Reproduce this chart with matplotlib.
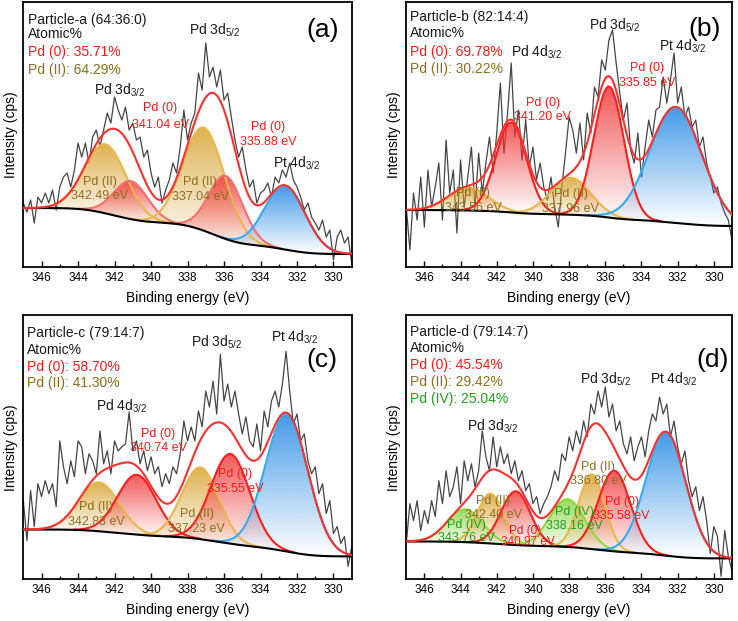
import numpy as np
import matplotlib.pyplot as plt
import matplotlib.colors as mcolors
from matplotlib.patches import Polygon

plt.rcParams['font.family'] = ['Liberation Sans', 'DejaVu Sans']
plt.rcParams['mathtext.default'] = 'regular'

# measured spectra, 347.0 -> 329.0 eV in 0.2 eV steps (intensity in arbitrary units)
raw_ev = np.linspace(347.0, 329.0, 91)
raw_a = [64, 55, 67, 44, 70, 64, 74, 64, 77, 57, 80, 90, 94, 80, 97, 124, 110, 124, 104, 130,
         137, 120, 137, 154, 144, 170, 157, 147, 160, 137, 144, 127, 130, 110, 117, 94, 80, 90, 64, 77,
         87, 104, 94, 120, 157, 127,
         144, 154, 194, 177, 224, 190, 200, 180, 197, 167, 174, 150, 127, 110, 120, 97, 80, 87, 64, 74,
         77, 84, 70, 90, 84, 97, 90, 104, 87, 80, 70, 57, 64, 50, 44, 37, 47, 30, 37, 7,
         30, 37, 24, 30, 4]
raw_b = [60, 17, 74, 47, 90, 40, 97, 60, 80, 104, 47, 127, 74, 97, 34, 107, 60, 90, 120, 60,
         114, 74, 104, 130, 94, 134, 184, 114, 154, 204, 130, 157, 107, 147, 100, 120, 87, 104, 80, 67,
         90, 60, 40, 80, 114, 150,
         137, 114, 144, 107, 154, 134, 180, 170, 207, 197, 227, 237, 204, 174, 147, 164, 117, 104, 134, 90,
         120, 147, 130, 157, 160, 190, 164, 187, 214, 164, 180, 150, 160, 140, 147, 120, 130, 104, 90, 74,
         80, 64, 54, 47, 27]
raw_c = [79, 39, 89, 53, 96, 83, 99, 86, 96, 73, 139, 113, 96, 119, 103, 139, 133, 106, 126, 119,
         106, 149, 116, 129, 106, 139, 129, 133, 136, 168, 129, 139, 116, 129, 109, 123, 106, 113, 93, 106,
         96, 113, 106, 126, 159, 139,
         153, 139, 169, 153, 189, 173, 199, 166, 226, 179, 196, 173, 189, 166, 146, 163, 139, 133, 156, 129,
         169, 153, 179, 189, 173, 196, 229, 189, 156, 166, 139, 146, 119, 106, 113, 86, 96, 66, 79, 46,
         53, 36, 43, 13, 33]
raw_d = [36, 76, 59, 79, 49, 69, 56, 79, 63, 99, 76, 109, 83, 93, 113, 76, 119, 99, 116, 93,
         109, 149, 123, 109, 143, 113, 133, 116, 126, 106, 119, 99, 109, 89, 96, 76, 83, 66, 76, 83,
         93, 109, 99, 126, 119, 143,
         129, 149, 136, 159, 143, 176, 166, 189, 173, 193, 163, 176, 149, 159, 136, 126, 143, 119, 133, 143,
         123, 149, 166, 159, 183, 166, 176, 143, 159, 133, 116, 129, 99, 83, 93, 69, 83, 59, 26, 53,
         43, 3, 49, 23, 9]

# fitted components: centre (eV), height, FWHM (eV), chemical state
peak_a_center = [342.50, 341.10, 337.10, 335.90, 332.65]
peak_a_height = [69, 38, 103, 63, 64]
peak_a_fwhm = [2.7, 2.2, 2.7, 2.2, 2.6]
peak_a_state = ['II', '0', 'II', '0', 'Pt']

peak_b_center = [343.56, 341.20, 337.90, 335.80, 332.10]
peak_b_height = [23, 90, 37, 131, 116]
peak_b_fwhm = [2.6, 2.0, 2.6, 1.95, 3.4]
peak_b_state = ['II', '0', 'II', '0', 'Pt']

peak_c_center = [342.85, 340.78, 337.30, 335.65, 332.56]
peak_c_height = [49, 60, 72, 90, 138]
peak_c_fwhm = [2.6, 2.5, 2.4, 2.5, 2.75]
peak_c_state = ['II', '0', 'II', '0', 'Pt']

peak_d_center = [343.76, 342.35, 340.95, 338.10, 336.75, 335.50, 332.65]
peak_d_height = [33, 50, 54, 48, 75, 81, 124]
peak_d_fwhm = [2.3, 1.7, 1.9, 2.3, 1.7, 2.1, 2.6]
peak_d_state = ['IV', 'II', '0', 'IV', 'II', '0', 'Pt']

# background level at the low / high binding-energy ends
bg_a = [13, 59]
bg_b = [41, 57]
bg_c = [23, 50]
bg_d = [21, 38]

line_col = {'0': '#ff1e1e', 'II': '#e8b84c', 'IV': '#8edc3e', 'Pt': '#35acf2'}
fill_col = {'0': '#f03a3a', 'II': '#d9a332', 'IV': '#84d440', 'Pt': '#2188e4'}
RED = '#ff1a1a'
BROWN = '#8c6d1f'
GREEN = '#1fa01f'


def gradient_fill(ax, x, lo, hi, color, a_top=0.85):
    verts = np.column_stack([np.r_[x, x[::-1]], np.r_[hi, lo[::-1]]])
    clip = Polygon(verts, closed=True, facecolor='none', edgecolor='none')
    ax.add_patch(clip)
    grad = np.zeros((120, 1, 4))
    grad[:, 0, :3] = mcolors.to_rgb(color)
    grad[:, 0, 3] = np.linspace(a_top, 0.0, 120)
    im = ax.imshow(grad, aspect='auto', origin='upper', zorder=2,
                   extent=[x.min(), x.max(), lo.min(), hi.max()])
    im.set_clip_path(clip)


def draw(ax, raw, centers, heights, fwhms, states, bg_ends, comp_col=None):
    x = np.linspace(329, 347, 700)
    comps = [h * np.exp(-4 * np.log(2) * ((x - c) / w) ** 2)
             for c, h, w in zip(centers, heights, fwhms)]
    total = np.sum(comps, axis=0)
    cum = np.cumsum(total)
    bg = bg_ends[0] + (bg_ends[1] - bg_ends[0]) * cum / cum[-1]

    ax.plot(raw_ev, raw, color='#454545', lw=0.9, zorder=1)
    for comp, st in zip(comps, states):
        m = comp > 0.3
        xs, lo, hi = x[m], bg[m], bg[m] + comp[m]
        gradient_fill(ax, xs, lo, hi, fill_col[st])
        lc = line_col[st] if comp_col is None or st != '0' else comp_col
        ax.plot(xs, hi, color=lc, lw=1.5, zorder=3)
    ax.plot(x, bg, color='black', lw=1.5, zorder=4)
    ax.plot(x, bg + total, color='#ff3030', lw=1.5, zorder=5)

    ax.set_xlim(347, 329)
    ax.set_ylim(0, 265)
    ax.set_yticks([])
    ax.set_xticks(np.arange(346, 329, -2))
    ax.set_xticks(np.arange(346, 329, -1), minor=True)
    ax.tick_params(axis='x', which='both', direction='in', width=1, labelsize=8.5, pad=3.5)
    ax.tick_params(axis='x', which='major', length=4)
    ax.tick_params(axis='x', which='minor', length=2.5)
    for s in ax.spines.values():
        s.set_linewidth(1.3)
    ax.set_xlabel('Binding energy (eV)', fontsize=10, labelpad=5)
    ax.set_ylabel('Intensity (cps)', fontsize=10, labelpad=4)


def info(ax, x0, ys, lines):
    for y, (txt, col) in zip(ys, lines):
        ax.text(x0, y, txt, transform=ax.transAxes, ha='left', va='center',
                fontsize=10, color=col, zorder=6)


def lab(ax, x, y, txt, col, fs=9):
    ax.text(x, y, txt, ha='center', va='center', fontsize=fs, color=col, zorder=6)


fig = plt.figure(figsize=(7.38, 6.21), dpi=100)
ax_a = fig.add_axes([0.0316, 0.5700, 0.4450, 0.4267])
ax_b = fig.add_axes([0.5505, 0.5700, 0.4413, 0.4267])
ax_c = fig.add_axes([0.0316, 0.0671, 0.4450, 0.4251])
ax_d = fig.add_axes([0.5505, 0.0671, 0.4413, 0.4251])

# (a)
draw(ax_a, raw_a, peak_a_center, peak_a_height, peak_a_fwhm, peak_a_state, bg_a, comp_col='#f27070')
info(ax_a, 0.015, [0.932, 0.878, 0.812, 0.743],
     [('Particle-a (64:36:0)', '#1a1a1a'), ('Atomic%', '#1a1a1a'),
      ('Pd (0): 35.71%', RED), ('Pd (II): 64.29%', BROWN)])
ax_a.text(0.912, 0.894, '(a)', transform=ax_a.transAxes, ha='center', va='center', fontsize=19)
lab(ax_a, 336.5, 237, 'Pd 3d$_{5/2}$', '#1a1a1a', 10)
lab(ax_a, 341.7, 177, 'Pd 3d$_{3/2}$', '#1a1a1a', 10)
lab(ax_a, 332.0, 104, 'Pt 4d$_{3/2}$', '#1a1a1a', 10)
lab(ax_a, 339.5, 159, 'Pd (0)', RED)
lab(ax_a, 339.5, 142, '341.04 eV', RED)
lab(ax_a, 333.6, 140, 'Pd (0)', RED)
lab(ax_a, 333.6, 125, '335.88 eV', RED)
lab(ax_a, 342.8, 85, 'Pd (II)', BROWN)
lab(ax_a, 342.8, 71, '342.49 eV', BROWN)
lab(ax_a, 337.3, 85, 'Pd (II)', BROWN)
lab(ax_a, 337.3, 70, '337.04 eV', BROWN)

# (b)
draw(ax_b, raw_b, peak_b_center, peak_b_height, peak_b_fwhm, peak_b_state, bg_b)
info(ax_b, 0.010, [0.945, 0.882, 0.8125, 0.747],
     [('Particle-b (82:14:4)', '#1a1a1a'), ('Atomic%', '#1a1a1a'),
      ('Pd (0): 69.78%', RED), ('Pd (II): 30.22%', BROWN)])
ax_b.text(0.915, 0.90, '(b)', transform=ax_b.transAxes, ha='center', va='center', fontsize=19)
lab(ax_b, 339.8, 215, 'Pd 4d$_{3/2}$', '#1a1a1a', 10)
lab(ax_b, 335.5, 242, 'Pd 3d$_{5/2}$', '#1a1a1a', 10)
lab(ax_b, 331.7, 221, 'Pt 4d$_{3/2}$', '#1a1a1a', 10)
lab(ax_b, 333.7, 199, 'Pd (0)', RED)
lab(ax_b, 333.7, 184, '335.85 eV', RED)
lab(ax_b, 339.45, 164, 'Pd (0)', RED)
lab(ax_b, 339.45, 150, '341.20 eV', RED)
lab(ax_b, 343.3, 74, 'Pd (II)', BROWN)
lab(ax_b, 343.3, 59, '343.56 eV', BROWN)
lab(ax_b, 337.9, 73, 'Pd (II)', BROWN)
lab(ax_b, 337.9, 58, '337.96 eV', BROWN)

# (c)
draw(ax_c, raw_c, peak_c_center, peak_c_height, peak_c_fwhm, peak_c_state, bg_c)
info(ax_c, 0.010, [0.932, 0.868, 0.805, 0.742],
     [('Particle-c (79:14:7)', '#1a1a1a'), ('Atomic%', '#1a1a1a'),
      ('Pd (0): 58.70%', RED), ('Pd (II): 41.30%', BROWN)])
ax_c.text(0.909, 0.83, '(c)', transform=ax_c.transAxes, ha='center', va='center', fontsize=19)
lab(ax_c, 336.4, 238, 'Pd 3d$_{5/2}$', '#1a1a1a', 10)
lab(ax_c, 332.1, 243, 'Pt 4d$_{3/2}$', '#1a1a1a', 10)
lab(ax_c, 341.6, 174, 'Pd 4d$_{3/2}$', '#1a1a1a', 10)
lab(ax_c, 339.6, 146, 'Pd (0)', RED)
lab(ax_c, 339.6, 132, '340.74 eV', RED)
lab(ax_c, 335.4, 106, 'Pd (0)', RED)
lab(ax_c, 335.4, 91, '335.55 eV', RED)
lab(ax_c, 343.0, 73, 'Pd (II)', BROWN)
lab(ax_c, 343.0, 58, '342.83 eV', BROWN)
lab(ax_c, 337.5, 66, 'Pd (II)', BROWN)
lab(ax_c, 337.5, 51, '337.23 eV', BROWN)

# (d)
draw(ax_d, raw_d, peak_d_center, peak_d_height, peak_d_fwhm, peak_d_state, bg_d)
info(ax_d, 0.010, [0.938, 0.875, 0.812, 0.748, 0.682],
     [('Particle-d (79:14:7)', '#1a1a1a'), ('Atomic%', '#1a1a1a'),
      ('Pd (0): 45.54%', RED), ('Pd (II): 29.42%', BROWN), ('Pd (IV): 25.04%', GREEN)])
ax_d.text(0.942, 0.83, '(d)', transform=ax_d.transAxes, ha='center', va='center', fontsize=19)
lab(ax_d, 336.0, 201, 'Pd 3d$_{5/2}$', '#1a1a1a', 10)
lab(ax_d, 332.2, 201, 'Pt 4d$_{3/2}$', '#1a1a1a', 10)
lab(ax_d, 342.2, 154, 'Pd 3d$_{3/2}$', '#1a1a1a', 10)
lab(ax_d, 336.4, 113, 'Pd (II)', BROWN)
lab(ax_d, 336.4, 99, '336.80 eV', BROWN)
lab(ax_d, 335.1, 78, 'Pd (0)', RED)
lab(ax_d, 335.1, 64, '335.58 eV', RED)
lab(ax_d, 337.7, 68, 'Pd (IV)', GREEN)
lab(ax_d, 337.7, 54, '338.16 eV', GREEN)
lab(ax_d, 342.2, 79, 'Pd (II)', BROWN)
lab(ax_d, 342.2, 65, '342.40 eV', BROWN)
lab(ax_d, 343.7, 55, 'Pd (IV)', GREEN)
lab(ax_d, 343.7, 41, '343.76 eV', GREEN)
lab(ax_d, 340.45, 49, 'Pd (0)', RED, 8.5)
lab(ax_d, 340.3, 37, '340.97 eV', RED, 8.5)

fig.savefig('out.png', dpi=100)
